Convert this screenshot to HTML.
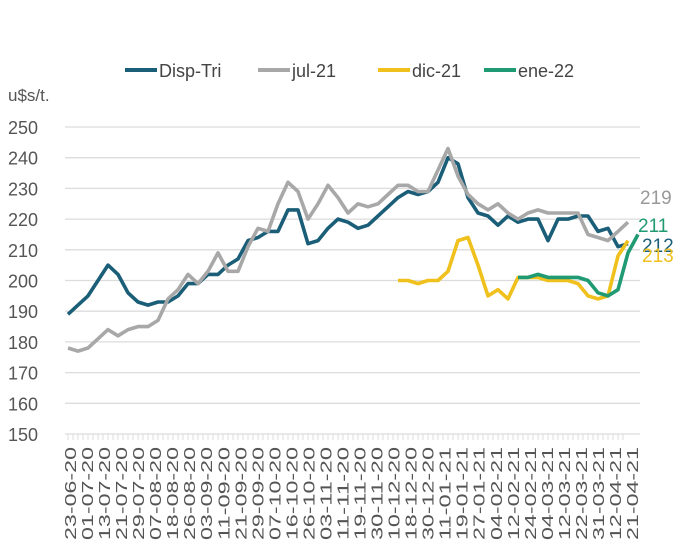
<!DOCTYPE html>
<html><head><meta charset="utf-8"><style>
body{margin:0;background:#fff;font-family:"Liberation Sans",sans-serif;}
svg{display:block}
</style></head><body>
<svg id="chart" width="697" height="555">
<text x="8" y="101" font-size="17" fill="#555">u$s/t.</text>
<g id="legend"></g>
<g id="grid"></g>
<g id="yticks"></g>
<g id="xticks"></g>
<g id="series"></g>
<g id="endlabels"></g>
</svg>
<script>
const xLabels=["23-06-20","01-07-20","13-07-20","21-07-20","29-07-20","07-08-20","18-08-20","26-08-20","03-09-20","11-09-20","21-09-20","29-09-20","07-10-20","16-10-20","26-10-20","03-11-20","11-11-20","19-11-20","30-11-20","10-12-20","18-12-20","30-12-20","11-01-21","19-01-21","27-01-21","04-02-21","12-02-21","24-02-21","04-03-21","12-03-21","22-03-21","31-03-21","12-04-21","21-04-21"];
const yTicks=[150,160,170,180,190,200,210,220,230,240,250];
const dispTri=[189,192,195,200,205,202,196,193,192,193,193,195,199,199,202,202,205,207,213,214,216,216,223,223,212,213,217,220,219,217,218,221,224,227,229,228,229,232,240,238,227,222,221,218,221,219,220,220,213,220,220,221,221,216,217,211,212];
const jul21=[178,177,178,181,184,182,184,185,185,187,194,197,202,199,203,209,203,203,211,217,216,225,232,229,220,225,231,227,222,225,224,225,228,231,231,229,229,236,243,234,228,225,223,225,222,220,222,223,222,222,222,222,215,214,213,216,219];
const dic21=[null,null,null,null,null,null,null,null,null,null,null,null,null,null,null,null,null,null,null,null,null,null,null,null,null,null,null,null,null,null,null,null,null,200,200,199,200,200,203,213,214,205,195,197,194,201,201,201,200,200,200,199,195,194,195,208,213];
const ene22=[null,null,null,null,null,null,null,null,null,null,null,null,null,null,null,null,null,null,null,null,null,null,null,null,null,null,null,null,null,null,null,null,null,null,null,null,null,null,null,null,null,null,null,null,null,201,201,202,201,201,201,201,200,196,195,197,209,215];
const seriesNames=["Disp-Tri","jul-21","dic-21","ene-22"];
const endValues=[212,219,213,211];
const colors=["#1b5e78","#a8a8a8","#f0c01c","#1f9a73"];
const NS="http://www.w3.org/2000/svg";
const X0=68,X1=628,N=dispTri.length;
const xs=i=>X0+(X1-X0)*i/(N-1);
const ys=v=>434-(v-150)*3.07;
function mk(t,a,p){const e=document.createElementNS(NS,t);for(const k in a)e.setAttribute(k,a[k]);p.appendChild(e);return e;}
const grid=document.getElementById('grid'),yt=document.getElementById('yticks');
yTicks.forEach(v=>{
 const l=mk('line',{x1:65,x2:640,y1:ys(v),y2:ys(v),stroke:'#dcdcdc','stroke-width':1.3},grid);
 
 
 const t=mk('text',{x:8,y:ys(v)+7,'font-size':18,fill:'#555'},yt);
 t.textContent=v;
 
 
});
const xt=document.getElementById('xticks');
for(let i=0;i<112;i++){const x=X0+i*5;const l=mk('line',{x1:x,x2:x,y1:434,y2:440,stroke:'#ddd','stroke-width':1},xt);
 
 }
const step=(632-70)/(xLabels.length-1);
xLabels.forEach((s,i)=>{
 const x=70+i*step;
 const t=mk('text',{transform:`translate(${x+6},447) rotate(-90)`,'text-anchor':'end','font-size':16,fill:'#555',textLength:93,lengthAdjust:'spacingAndGlyphs'},xt);
 t.textContent=s;
 
 
});
const sg=document.getElementById('series');
[dispTri,jul21,dic21,ene22].forEach((arr,k)=>{
 let d='',pen=false;
 arr.forEach((v,i)=>{if(v==null){pen=false;return;}d+=(pen?'L':'M')+xs(i).toFixed(1)+','+ys(v).toFixed(1);pen=true;});
 const p=mk('path',{d:d,fill:'none',stroke:colors[k],'stroke-width':3.6,'stroke-linejoin':'round'},sg);
 
 
});
const lg=document.getElementById('legend');
const lx=[125,258,378,484];
seriesNames.forEach((n,k)=>{
 const l=mk('line',{x1:lx[k],x2:lx[k]+32,y1:70,y2:70,stroke:colors[k],'stroke-width':4},lg);
 
 
 const t=mk('text',{x:lx[k]+34,y:77,'font-size':18,fill:'#444'},lg);
 t.textContent=n;
 
 
});
const el=document.getElementById('endlabels');
const ey=[252,204,262,232],ex=[642,640,642,638];
endValues.forEach((v,k)=>{
 const t=mk('text',{x:ex[k],y:ey[k],'font-size':19,fill:k==1?'#999':colors[k]},el);
 t.textContent=v;
 
 
});
</script>
</body></html>
